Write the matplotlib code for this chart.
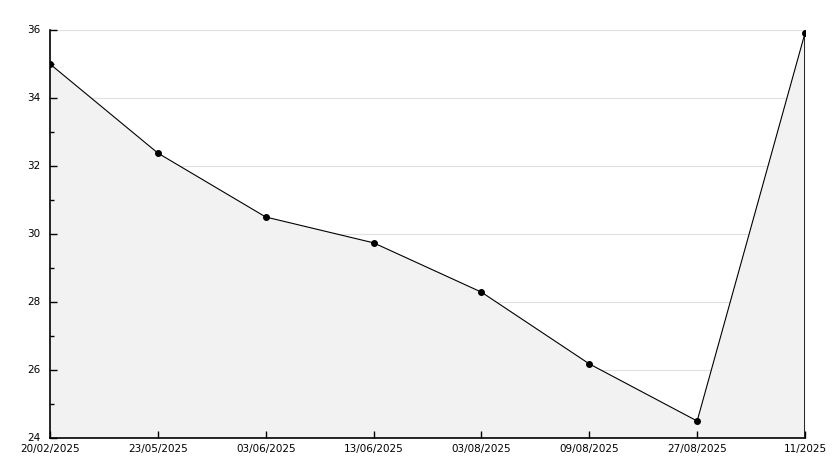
import matplotlib
matplotlib.use("Agg")
import matplotlib.pyplot as plt
from matplotlib.ticker import MultipleLocator

dates = ["20/02/2025", "23/05/2025", "03/06/2025", "13/06/2025",
         "03/08/2025", "09/08/2025", "27/08/2025", "11/2025"]
values = [35.0, 32.38, 30.5, 29.74, 28.29, 26.18, 24.5, 35.91]
grid_levels = [26, 28, 30, 32, 34, 36]

fig = plt.figure(figsize=(8.34, 4.68), dpi=100)
ax = fig.add_axes([50/834, 30/468, 755/834, 408/468])
x = list(range(len(values)))

for g in grid_levels:
    ax.axhline(g, color="#e0e0e0", linewidth=0.8, zorder=0.5)
ax.fill_between(x, values, 24, color="#f2f2f2", zorder=1, linewidth=0)
ax.plot(x, values, color="black", linewidth=0.8, marker="o", markersize=4,
        markerfacecolor="black", zorder=3)
ax.plot([x[-1], x[-1]], [24, values[-1]], color="black", linewidth=1.2, zorder=3)

ax.set_xlim(0, len(values) - 1)
ax.set_ylim(24, 36)
ax.yaxis.set_major_locator(MultipleLocator(2))
ax.yaxis.set_minor_locator(MultipleLocator(1))
ax.set_xticks(x)
ax.set_xticklabels(dates)
ax.set_axisbelow(False)

for s in ["top", "right"]:
    ax.spines[s].set_visible(False)
for s in ["left", "bottom"]:
    ax.spines[s].set_linewidth(1.2)
    ax.spines[s].set_zorder(4)

ax.tick_params(axis="both", which="major", direction="in", length=5, width=1,
               labelsize=7.5)
ax.tick_params(axis="y", which="major", pad=7)
ax.tick_params(axis="y", which="minor", direction="in", length=3, width=1)
ax.tick_params(axis="x", pad=4)
for t in ax.get_yticklabels():
    t.set_verticalalignment("center")

fig.savefig("out.png", dpi=100)
